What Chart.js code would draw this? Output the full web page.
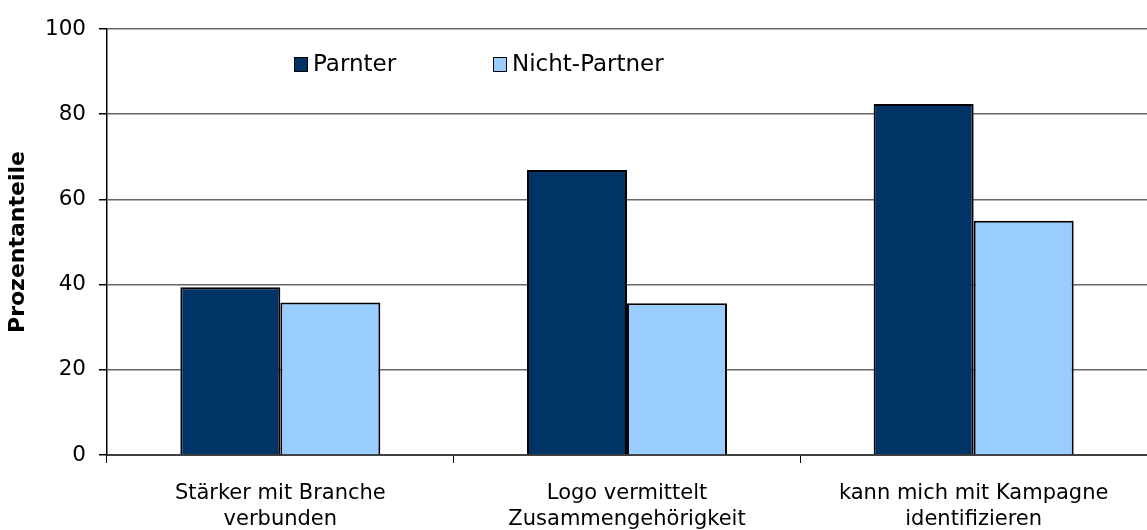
<!DOCTYPE html>
<html>
<head>
<meta charset="utf-8">
<script src="https://cdn.jsdelivr.net/npm/chart.js@4/dist/chart.umd.min.js"></script>
<style>
  html, body { margin: 0; padding: 0; background: #fff; }
  #wrap { width: 1147px; height: 530px; }
</style>
</head>
<body>
<div id="wrap"><canvas id="grafico"></canvas></div>
<script>
var kategorien = [
    ['Stärker mit Branche', 'verbunden'],
    ['Logo vermittelt', 'Zusammengehörigkeit'],
    ['kann mich mit Kampagne', 'identifizieren']
];
var partner = [39.4, 66.9, 82.4];
var nichtPartner = [35.8, 35.6, 55.0];
var yTicks = [0, 20, 40, 60, 80, 100];

var schrift = 'Verdana, "DejaVu Sans", sans-serif';

// legenda disegnata dentro l'area del grafico
var legendaInterna = {
    id: 'legendaInterna',
    afterDraw: function (chart) {
        var ctx = chart.ctx;
        var posX = [294, 493];
        var y = 64;
        ctx.save();
        ctx.font = '23px ' + schrift;
        ctx.textBaseline = 'middle';
        chart.data.datasets.forEach(function (ds, i) {
            ctx.fillStyle = ds.backgroundColor;
            ctx.fillRect(posX[i], y - 7, 13, 14);
            ctx.strokeStyle = '#000';
            ctx.lineWidth = 1;
            ctx.strokeRect(posX[i] + 0.5, y - 6.5, 13, 14);
            ctx.fillStyle = '#000';
            ctx.fillText(ds.label, posX[i] + 19, y + 1);
        });
        ctx.restore();
    }
};

var ctx = document.getElementById('grafico');
var chart = new Chart(ctx, {
    type: 'bar',
    data: {
        labels: kategorien,
        datasets: [{
            label: 'Parnter',
            data: partner,
            backgroundColor: '#003366',
            borderColor: '#000',
            borderWidth: 2
        }, {
            label: 'Nicht-Partner',
            data: nichtPartner,
            backgroundColor: '#99ccff',
            borderColor: '#000',
            borderWidth: 2
        }]
    },
    options: {
        responsive: true,
        maintainAspectRatio: false,
        animation: false,
        layout: { padding: { top: 29, right: 0, left: 0, bottom: 0 } },
        datasets: { bar: { categoryPercentage: 0.577, barPercentage: 1.0 } },
        plugins: {
            legend: { display: false },
            tooltip: { enabled: false }
        },
        scales: {
            x: {
                grid: {
                    offset: true,
                    drawOnChartArea: false,
                    drawTicks: true,
                    tickLength: 8,
                    color: '#000'
                },
                border: { color: '#404040', width: 2 },
                ticks: {
                    color: '#000',
                    padding: 18,
                    font: { family: schrift, size: 21, lineHeight: 1.22 },
                    maxRotation: 0,
                    autoSkip: false
                },
                afterFit: function (scale) { scale.height = 75; }
            },
            y: {
                min: 0,
                max: 100,
                afterBuildTicks: function (scale) {
                    scale.ticks = yTicks.map(function (v) { return { value: v }; });
                },
                grid: {
                    color: function (c) { return c.tick.value === 0 ? 'rgba(0,0,0,0)' : '#666666'; },
                    tickColor: '#000',
                    tickLength: 8,
                    lineWidth: 1.5
                },
                border: { color: '#000', width: 1.5 },
                ticks: {
                    color: '#000',
                    padding: 13,
                    font: { family: schrift, size: 21.5 }
                },
                title: {
                    display: true,
                    text: 'Prozentanteile',
                    color: '#000',
                    padding: { top: 5, bottom: 0 },
                    font: { family: schrift, size: 22, weight: 'bold' }
                },
                afterFit: function (scale) { scale.width = 107; }
            }
        }
    },
    plugins: [legendaInterna]
});
</script>
</body>
</html>
